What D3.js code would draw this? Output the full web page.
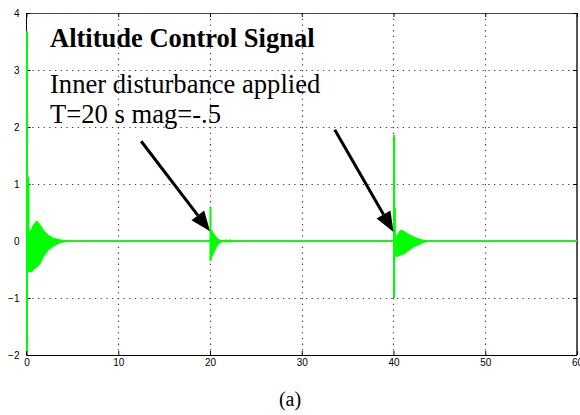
<!DOCTYPE html>
<html>
<head>
<meta charset="utf-8">
<script src="https://cdn.jsdelivr.net/npm/d3@7"></script>
<style>
  html, body { margin: 0; padding: 0; background: #fff; }
  svg { display: block; }
</style>
</head>
<body>
<svg id="chart" width="580" height="415"></svg>
<script>
// Axis ticks
const xTicks = [0, 10, 20, 30, 40, 50, 60];
const yTicks = [-2, -1, 0, 1, 2, 3, 4];

// Sharp transients at the start and at each disturbance (time, peak, trough)
const spikeTimes = [0, 0.15, 20, 40, 40.1];
const spikeHigh  = [3.68, 1.12, 0.6, 1.86, 0.58];
const spikeLow   = [-1.93, -0.54, -0.35, -1.0, -0.27];

// Oscillation envelopes after each transient (time, upper, lower)
const burst0T  = [0.3, 0.6, 0.74, 1.11, 1.47, 1.83, 2.38, 2.92, 3.65, 4.74];
const burst0Up = [0.16, 0.22, 0.28, 0.35, 0.29, 0.19, 0.10, 0.05, 0.02, 0];
const burst0Lo = [-0.54, -0.54, -0.50, -0.46, -0.40, -0.28, -0.16, -0.09, -0.03, 0];

const burst20T  = [20.05, 20.2, 20.44, 20.65, 20.87, 21.2, 21.4, 21.74, 21.95, 22.2, 22.4];
const burst20Up = [0.20, 0.18, 0.12, 0.07, 0.03, 0.01, 0, 0.02, 0, 0.02, 0];
const burst20Lo = [-0.33, -0.28, -0.20, -0.12, -0.06, -0.02, 0, -0.02, 0, -0.02, 0];

const burst40T  = [40.27, 40.46, 40.71, 40.89, 41.25, 41.61, 41.98, 42.34, 42.67, 43.07, 43.43, 43.65];
const burst40Up = [0.05, 0.12, 0.18, 0.19, 0.16, 0.12, 0.09, 0.06, 0.04, 0.02, 0.01, 0];
const burst40Lo = [-0.27, -0.27, -0.25, -0.24, -0.22, -0.17, -0.13, -0.09, -0.07, -0.04, -0.02, 0];

// Annotation arrows: [tail time, tail value, head time, head value]
const arrows = [
  [12.5, 1.75, 20.0, 0.17],
  [33.6, 1.95, 40.0, 0.16]
];

const titleText = "Altitude Control Signal";
const noteLines = ["Inner disturbance applied", "T=20 s mag=-.5"];
const captionText = "(a)";

const svg = d3.select("#chart");
const plotLeft = 26.5, plotRight = 577, plotTop = 13, plotBottom = 355;

const x = d3.scaleLinear().domain([0, 60]).range([plotLeft, plotRight]);
const y = d3.scaleLinear().domain([-2, 4]).range([plotBottom, plotTop]);

// Dotted grid
const grid = svg.append("g").attr("stroke", "#444").attr("stroke-width", 1.2)
  .attr("stroke-dasharray", "1.3,4.4");
grid.selectAll("line.gx").data(xTicks.slice(1, -1)).join("line")
  .attr("x1", d => Math.round(x(d)) + 0.5).attr("x2", d => Math.round(x(d)) + 0.5)
  .attr("y1", plotTop).attr("y2", plotBottom);
grid.selectAll("line.gy").data(yTicks.slice(1, -1)).join("line")
  .attr("y1", d => Math.round(y(d)) + 0.5).attr("y2", d => Math.round(y(d)) + 0.5)
  .attr("x1", plotLeft).attr("x2", plotRight);

// Axes box
svg.append("line").attr("x1", plotLeft).attr("x2", plotRight).attr("y1", plotTop + 0.5).attr("y2", plotTop + 0.5)
  .attr("stroke", "#444").attr("stroke-width", 1);
svg.append("line").attr("x1", plotRight).attr("x2", plotRight).attr("y1", plotTop).attr("y2", plotBottom)
  .attr("stroke", "#555").attr("stroke-width", 2);
svg.append("line").attr("x1", plotLeft).attr("x2", plotLeft).attr("y1", plotTop).attr("y2", plotBottom)
  .attr("stroke", "#000").attr("stroke-width", 1);
svg.append("line").attr("x1", plotLeft).attr("x2", plotRight).attr("y1", plotBottom + 0.5).attr("y2", plotBottom + 0.5)
  .attr("stroke", "#000").attr("stroke-width", 1);

// Axes with inward ticks
const axisFont = "'Liberation Sans', Arial, sans-serif";
const gx = svg.append("g").attr("transform", `translate(0,${plotBottom})`)
  .call(d3.axisBottom(x).tickValues(xTicks).tickSize(-4).tickPadding(4).tickFormat(d3.format("d")));
const gxTop = svg.append("g").attr("transform", `translate(0,${plotTop})`)
  .call(d3.axisTop(x).tickValues(xTicks).tickSize(-4).tickFormat(""));
const gy = svg.append("g").attr("transform", `translate(${plotLeft},0)`)
  .call(d3.axisLeft(y).tickValues(yTicks).tickSize(-4).tickPadding(7).tickFormat(d3.format("d")));
const gyR = svg.append("g").attr("transform", `translate(${plotRight},0)`)
  .call(d3.axisRight(y).tickValues(yTicks).tickSize(-4).tickFormat(""));
[gx, gxTop, gy, gyR].forEach(g => {
  g.select(".domain").remove();
  g.selectAll(".tick line").attr("stroke", "#000");
  g.selectAll("text").attr("font-family", axisFont).attr("font-size", 10).attr("fill", "#000");
});

// Signal (drawn over the frame)
const green = "#00ff00";
const sig = svg.append("g");
sig.append("line")
  .attr("x1", x(0)).attr("x2", x(60))
  .attr("y1", y(0)).attr("y2", y(0))
  .attr("stroke", "#22f022").attr("stroke-width", 2);

const area = d3.area().x(d => x(d[0])).y0(d => y(d[2])).y1(d => y(d[1]));
[[burst0T, burst0Up, burst0Lo], [burst20T, burst20Up, burst20Lo], [burst40T, burst40Up, burst40Lo]]
  .forEach(([t, up, lo]) => {
    const pts = t.map((v, i) => [v, up[i], lo[i]]);
    sig.append("path").attr("d", area(pts)).attr("fill", green)
      .attr("stroke", green).attr("stroke-width", 1);
  });

sig.selectAll("line.spike").data(spikeTimes).join("line")
  .attr("x1", d => x(d) + 0.5).attr("x2", d => x(d) + 0.5)
  .attr("y1", (d, i) => y(spikeHigh[i])).attr("y2", (d, i) => y(spikeLow[i]))
  .attr("stroke", green).attr("stroke-width", 2);

// Annotation text
const serif = "'Liberation Serif', 'Times New Roman', serif";
svg.append("text").attr("x", 50).attr("y", 47)
  .attr("font-family", serif).attr("font-weight", "bold").attr("font-size", 26.5)
  .text(titleText);
svg.selectAll("text.note").data(noteLines).join("text")
  .attr("x", 50).attr("y", (d, i) => 93 + i * 30)
  .attr("font-family", serif).attr("font-size", 26.6)
  .text(d => d);
svg.append("text").attr("x", 290).attr("y", 406).attr("text-anchor", "middle")
  .attr("font-family", serif).attr("font-size", 20)
  .text(captionText);

// Arrows
const arrowG = svg.append("g");
arrows.forEach(([t0, v0, t1, v1]) => {
  const x0 = x(t0), y0 = y(v0), x1 = x(t1), y1 = y(v1);
  const ang = Math.atan2(y1 - y0, x1 - x0);
  const len = 20, half = 8;
  const bx = x1 - len * Math.cos(ang), by = y1 - len * Math.sin(ang);
  arrowG.append("line").attr("x1", x0).attr("y1", y0).attr("x2", bx).attr("y2", by)
    .attr("stroke", "#000").attr("stroke-width", 3);
  const px = -Math.sin(ang) * half, py = Math.cos(ang) * half;
  arrowG.append("path")
    .attr("d", `M${x1},${y1}L${bx + px},${by + py}L${bx - px},${by - py}Z`)
    .attr("fill", "#000");
});
</script>
</body>
</html>
